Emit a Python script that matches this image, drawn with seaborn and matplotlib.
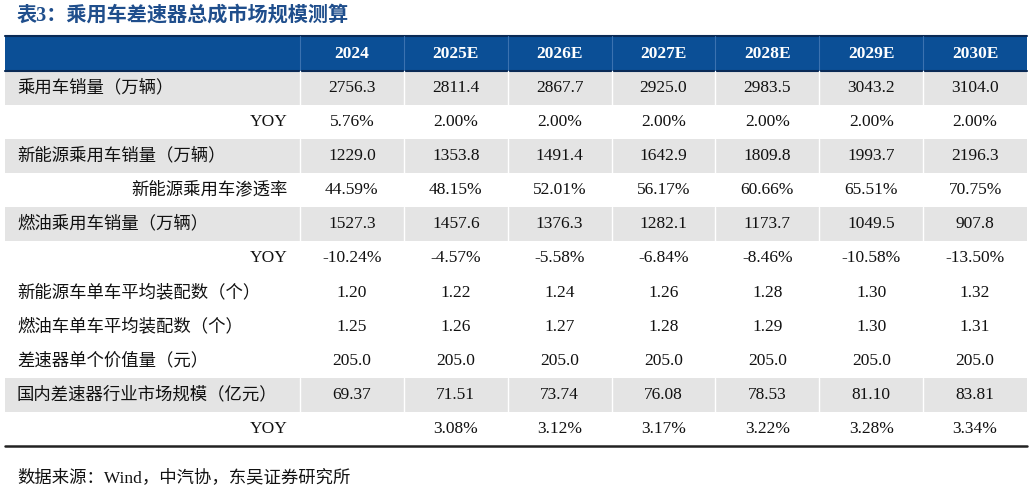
import matplotlib
matplotlib.use("Agg")
import matplotlib.pyplot as plt
from matplotlib.patches import Rectangle
import seaborn as sns

sns.set_theme(style="white")
plt.rcParams['font.family'] = ['Liberation Serif', 'Noto Sans CJK SC', 'DejaVu Sans']

title = "表3：乘用车差速器总成市场规模测算"
source = "数据来源：Wind，中汽协，东吴证券研究所"
years = ["2024", "2025E", "2026E", "2027E", "2028E", "2029E", "2030E"]
row_labels = ["乘用车销量（万辆）", "YOY", "新能源乘用车销量（万辆）", "新能源乘用车渗透率",
              "燃油乘用车销量（万辆）", "YOY", "新能源车单车平均装配数（个）",
              "燃油车单车平均装配数（个）", "差速器单个价值量（元）",
              "国内差速器行业市场规模（亿元）", "YOY"]
right_aligned = [False, True, False, True, False, True, False, False, False, False, True]
shaded = [True, False, True, False, True, False, False, False, False, True, False]
values = [
    ["2756.3", "2811.4", "2867.7", "2925.0", "2983.5", "3043.2", "3104.0"],
    ["5.76%", "2.00%", "2.00%", "2.00%", "2.00%", "2.00%", "2.00%"],
    ["1229.0", "1353.8", "1491.4", "1642.9", "1809.8", "1993.7", "2196.3"],
    ["44.59%", "48.15%", "52.01%", "56.17%", "60.66%", "65.51%", "70.75%"],
    ["1527.3", "1457.6", "1376.3", "1282.1", "1173.7", "1049.5", "907.8"],
    ["-10.24%", "-4.57%", "-5.58%", "-6.84%", "-8.46%", "-10.58%", "-13.50%"],
    ["1.20", "1.22", "1.24", "1.26", "1.28", "1.30", "1.32"],
    ["1.25", "1.26", "1.27", "1.28", "1.29", "1.30", "1.31"],
    ["205.0", "205.0", "205.0", "205.0", "205.0", "205.0", "205.0"],
    ["69.37", "71.51", "73.74", "76.08", "78.53", "81.10", "83.81"],
    ["", "3.08%", "3.12%", "3.17%", "3.22%", "3.28%", "3.34%"],
]

BLUE = "#0b4f96"
GRAY = "#e4e4e4"
left, right = 5, 1027
label_w = 295
col_w = (right - left - label_w) / len(years)
head_top, head_bot = 36, 71
row_h = (446 - head_bot) / len(row_labels)

fig = plt.figure(figsize=(10.32, 4.95), dpi=100)
ax = fig.add_axes([0, 0, 1, 1])
ax.set_xlim(0, 1032)
ax.set_ylim(495, 0)
ax.axis("off")

ax.text(left + 12, 16, title, fontsize=14.5, fontweight="bold", color="#1f4e8c", va="center")

# header
ax.add_patch(Rectangle((left, head_top), right - left, head_bot - head_top, color=BLUE, lw=0))
ax.plot([left, right], [head_top, head_top], color="#0a2a55", lw=1.5)
ax.plot([left, right], [head_bot, head_bot], color="#0a2a55", lw=1.5)
for j, y in enumerate(years):
    cx = left + label_w + col_w * (j + 0.5)
    ax.text(cx, (head_top + head_bot) / 2, y, fontsize=12.5, fontweight="bold",
            color="white", ha="center", va="center")
    ax.plot([cx - col_w / 2] * 2, [head_top, head_bot], color="#3b72b0", lw=0.8)

# body
for i, lab in enumerate(row_labels):
    y0 = head_bot + i * row_h
    cy = y0 + row_h / 2
    if shaded[i]:
        ax.add_patch(Rectangle((left, y0), right - left, row_h, color=GRAY, lw=0))
        for j in range(len(years)):
            x = left + label_w + col_w * j
            ax.plot([x, x], [y0, y0 + row_h], color="white", lw=1)
    if right_aligned[i]:
        ax.text(left + label_w - 12, cy, lab, fontsize=12.5, ha="right", va="center", color="#111111")
    else:
        ax.text(left + 12, cy, lab, fontsize=12.5, ha="left", va="center", color="#111111")
    for j, v in enumerate(values[i]):
        cx = left + label_w + col_w * (j + 0.5)
        ax.text(cx, cy, v, fontsize=12.5, ha="center", va="center", color="#111111")

ax.plot([left, right], [head_bot + len(row_labels) * row_h] * 2, color="#222222", lw=1.8)
ax.text(left + 12, 478, source, fontsize=12.5, ha="left", va="center", color="#111111")

fig.savefig("out.png", dpi=100)
